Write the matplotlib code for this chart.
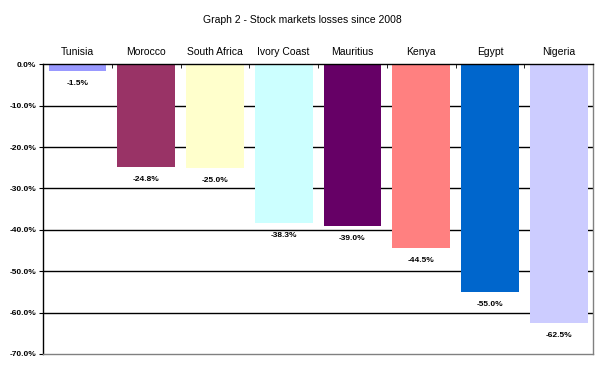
import matplotlib
matplotlib.use("Agg")
import matplotlib.pyplot as plt
import numpy as np

countries = ["Tunisia", "Morocco", "South Africa", "Ivory Coast", "Mauritius", "Kenya", "Egypt", "Nigeria"]
losses = [-1.5, -24.8, -25.0, -38.3, -39.0, -44.5, -55.0, -62.5]
colors = ["#9999FF", "#993366", "#FFFFCC", "#CCFFFF", "#660066", "#FF8080", "#0066CC", "#CCCCFF"]
yticks = [0, -10, -20, -30, -40, -50, -60, -70]
title = "Graph 2 - Stock markets losses since 2008"

plt.rcParams['font.family'] = ['Liberation Sans', 'DejaVu Sans']
fig = plt.figure(figsize=(6.04, 3.72), dpi=100)
ax = fig.add_axes([43/604, 1-354/372, 550/604, (354-64.3)/372])

x = np.arange(len(countries))
ax.bar(x, losses, width=0.84, color=colors, zorder=3)
ax.set_xlim(-0.5, len(countries)-0.5)
ax.set_ylim(-70, 0)
ax.set_yticks(yticks)
ax.set_yticklabels([f"{v:.1f}%" for v in yticks], fontsize=6, fontweight='bold')
for v in yticks[1:-1]:
    ax.axhline(v, color='black', lw=1, zorder=1)

ax.xaxis.tick_top()
ax.set_xticks(np.arange(len(countries)+1)-0.5, minor=True)
ax.set_xticks(x)
ax.set_xticklabels(countries, fontsize=7.5)
ax.tick_params(axis='x', which='major', length=0, pad=5)
ax.tick_params(axis='x', which='minor', direction='in', length=3, color='black')
ax.tick_params(axis='y', direction='out', length=3, pad=2)

for s in ['left', 'top']:
    ax.spines[s].set_color('black')
    ax.spines[s].set_linewidth(1)
for s in ['right', 'bottom']:
    ax.spines[s].set_color('#808080')
    ax.spines[s].set_linewidth(1)
ax.spines['top'].set_zorder(4)

for xi, v in zip(x, losses):
    ax.annotate(f"{v:.1f}%", (xi, v), xytext=(0, -9), textcoords='offset points',
                ha='center', va='center', fontsize=6, fontweight='bold')

fig.text(302/604, 1-20/372, title, ha='center', va='center', fontsize=7.5)
fig.savefig("out.png", dpi=100)
